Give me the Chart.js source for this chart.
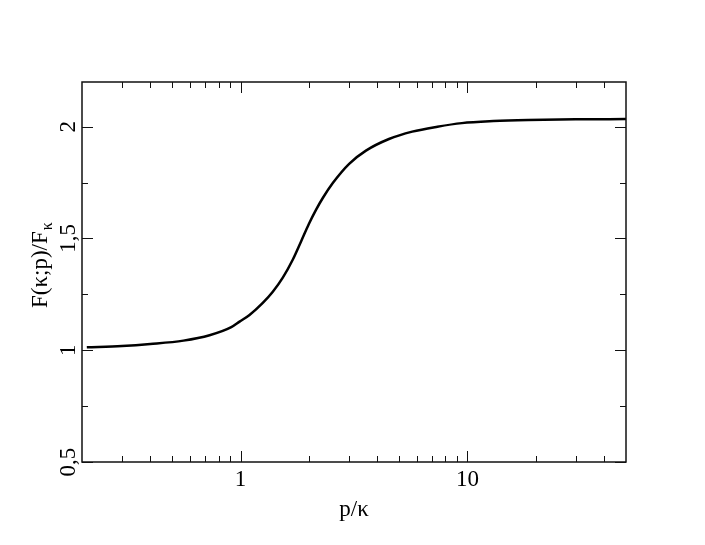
<!DOCTYPE html>
<html>
<head>
<title>F(κ;p)/Fκ</title>
<script src="https://cdn.jsdelivr.net/npm/chart.js@4.4.0/dist/chart.umd.min.js"></script>
<style>
  body { margin: 0; background: #fff; font-family: "Liberation Serif", "Times New Roman", serif; }
  #wrap { width: 705px; height: 545px; }
</style>
</head>
<body>
<div id="wrap"><canvas id="myChart" width="705" height="545"></canvas></div>

<script>
// curve
var pk    = [0.21, 0.3, 0.4, 0.56, 0.73, 0.91, 0.99, 1.095, 1.253, 1.387, 1.535, 1.698, 1.85, 2.0, 2.15, 2.3, 2.55, 3.01, 3.57, 4.51, 5.71, 7.37, 9.45, 13, 18.5, 30, 50];
var ratio = [1.013, 1.019, 1.028, 1.043, 1.067, 1.103, 1.128, 1.158, 1.212, 1.262, 1.325, 1.405, 1.488, 1.565, 1.628, 1.680, 1.748, 1.834, 1.893, 1.945, 1.978, 2.000, 2.016, 2.025, 2.030, 2.033, 2.034];

// axes
var xMajorTicks = [1, 10];
var xTickLabels = ["1", "10"];
var xMinorTicks = [0.3, 0.4, 0.5, 0.6, 0.7, 0.8, 0.9, 2, 3, 4, 5, 6, 7, 8, 9, 20, 30, 40];
var yMajorTicks = [0.5, 1, 1.5, 2];
var yTickLabels = ["0,5", "1", "1,5", "2"];
var yMinorTicks = [0.75, 1.25, 1.75];

var points = [];
for (var i = 0; i < pk.length; i++) {
  points.push({x: pk[i], y: ratio[i]});
}

var FAMILY = '"Liberation Serif", "Times New Roman", Times, serif';
var FONT = '23px ' + FAMILY;
var SUBFONT = '16px ' + FAMILY;

var frame = {
  id: 'frame',
  afterDraw: function(chart) {
    var c = chart.ctx, a = chart.chartArea;
    var xs = chart.scales.x, ys = chart.scales.y;
    c.save();
    c.strokeStyle = '#111';
    c.lineWidth = 1.5;
    c.strokeRect(a.left, a.top, a.right - a.left, a.bottom - a.top);

    function xTick(v, len) {
      var px = Math.round(xs.getPixelForValue(v)) + 0.5;
      c.beginPath();
      c.moveTo(px, a.bottom); c.lineTo(px, a.bottom - len);
      c.moveTo(px, a.top); c.lineTo(px, a.top + len);
      c.stroke();
    }
    function yTick(v, len) {
      var py = Math.round(ys.getPixelForValue(v)) + 0.5;
      c.beginPath();
      c.moveTo(a.left, py); c.lineTo(a.left + len, py);
      c.moveTo(a.right, py); c.lineTo(a.right - len, py);
      c.stroke();
    }
    c.lineWidth = 1;
    xMajorTicks.forEach(function(v) { xTick(v, 11); });
    xMinorTicks.forEach(function(v) { xTick(v, 6); });
    yMajorTicks.forEach(function(v) { yTick(v, 11); });
    yMinorTicks.forEach(function(v) { yTick(v, 6); });

    c.fillStyle = '#000';
    c.font = FONT;
    c.textAlign = 'center';
    c.textBaseline = 'alphabetic';
    xMajorTicks.forEach(function(v, i) {
      c.fillText(xTickLabels[i], xs.getPixelForValue(v), 486);
    });
    c.fillText('p/\u03BA', (a.left + a.right) / 2, 516);

    yMajorTicks.forEach(function(v, i) {
      c.save();
      c.translate(75, ys.getPixelForValue(v));
      c.rotate(-Math.PI / 2);
      c.fillText(yTickLabels[i], 0, 0);
      c.restore();
    });

    // y title with subscript
    c.save();
    c.translate(47, 308);
    c.rotate(-Math.PI / 2);
    c.textAlign = 'left';
    var main = 'F(\u03BA;p)/F';
    c.fillText(main, 0, 0);
    var w = c.measureText(main).width;
    c.font = SUBFONT;
    c.fillText('\u03BA', w + 1, 5);
    c.restore();
    c.restore();
  }
};

function draw() {
  var ctx = document.getElementById('myChart').getContext('2d');
  var myChart = new Chart(ctx, {
    type: 'line',
    data: {
      datasets: [{
        data: points,
        borderColor: '#000',
        borderWidth: 2.5,
        pointRadius: 0,
        fill: false,
        cubicInterpolationMode: 'monotone'
      }]
    },
    options: {
      responsive: false,
      animation: false,
      layout: { padding: { left: 82, top: 82, right: 79, bottom: 83 } },
      plugins: { legend: { display: false }, tooltip: { enabled: false } },
      scales: {
        x: { type: 'logarithmic', min: 0.2, max: 50, display: false },
        y: { type: 'linear', min: 0.5, max: 2.2, display: false }
      }
    },
    plugins: [frame]
  });
}

if (document.fonts && document.fonts.load) {
  document.fonts.load(FONT).then(draw, draw);
} else {
  draw();
}
</script>
</body>
</html>
